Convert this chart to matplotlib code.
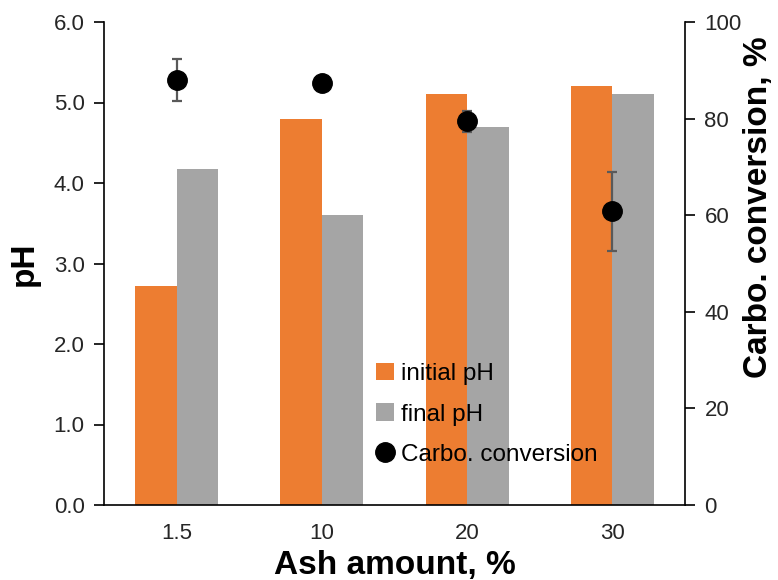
import matplotlib
matplotlib.use("Agg")
import matplotlib.pyplot as plt
from matplotlib.lines import Line2D
from matplotlib.patches import Patch
import numpy as np

plt.rcParams['font.family'] = ['Liberation Sans', 'DejaVu Sans']

categories = ["1.5", "10", "20", "30"]
initial_ph = [2.72, 4.8, 5.1, 5.2]
final_ph = [4.17, 3.6, 4.7, 5.1]
carbo_conv = [88.0, 87.3, 79.4, 60.8]
carbo_err = [4.4, 0.6, 2.1, 8.2]

fig = plt.figure(figsize=(7.78, 5.80), dpi=100)
ax = fig.add_axes([104/778, 1-505/580, (685-104)/778, (505-22)/580])
x = np.arange(len(categories))
w = 0.286
ax.bar(x - w/2, initial_ph, width=w, color='#ED7D31', zorder=2)
ax.bar(x + w/2, final_ph, width=w, color='#A5A5A5', zorder=2)
ax.set_xlim(-0.5, 3.5)
ax.set_ylim(0, 6)
ax.set_yticks(np.arange(0, 6.01, 1.0))
ax.set_yticklabels([f"{v:.1f}" for v in np.arange(0, 6.01, 1.0)])
ax.set_xticks(x)
ax.set_xticklabels(categories)
ax.tick_params(axis='x', length=0, pad=13, labelsize=16, labelcolor='#262626')
ax.tick_params(axis='y', direction='out', length=7, width=1.2, labelsize=16, pad=7, color='black', labelcolor='#262626')
for s in ['top', 'right']:
    ax.spines[s].set_visible(False)
ax.spines['left'].set_linewidth(1.2)
ax.spines['bottom'].set_linewidth(1.2)
ax.set_xlabel("Ash amount, %", fontsize=24, fontweight='bold', labelpad=4)
ax.set_ylabel("pH", fontsize=24, fontweight='bold', labelpad=10)

ax2 = ax.twinx()
ax2.errorbar(x, carbo_conv, yerr=carbo_err, fmt='o', color='black', markersize=14,
             ecolor='#595959', elinewidth=1.6, capsize=3.8, capthick=1.6, zorder=3)
ax2.set_ylim(0, 100)
ax2.set_yticks(np.arange(0, 101, 20))
ax2.tick_params(axis='y', direction='out', length=7, width=1.2, labelsize=16, pad=7, color='black', labelcolor='#262626')
for s in ['top', 'left', 'bottom']:
    ax2.spines[s].set_visible(False)
ax2.spines['right'].set_linewidth(1.2)
fig.text(759/778, 1-207/580, "Carbo. conversion, %", rotation=90, ha='center', va='center',
         fontsize=24, fontweight='bold')

handles = [Patch(facecolor='#ED7D31', edgecolor='none'),
           Patch(facecolor='#A5A5A5', edgecolor='none'),
           Line2D([0], [0], marker='o', color='black', linestyle='none', markersize=14)]
labels = ["initial pH", "final pH", "Carbo. conversion"]
leg = ax2.legend(handles, labels, loc='upper left', bbox_to_anchor=(376/778, 1-363/580),
                 bbox_transform=fig.transFigure, frameon=False, fontsize=17.5,
                 handlelength=0.72, handleheight=0.72, handletextpad=0.3, labelspacing=0.75,
                 borderpad=0, borderaxespad=0)

fig.savefig("out.png", dpi=100)
